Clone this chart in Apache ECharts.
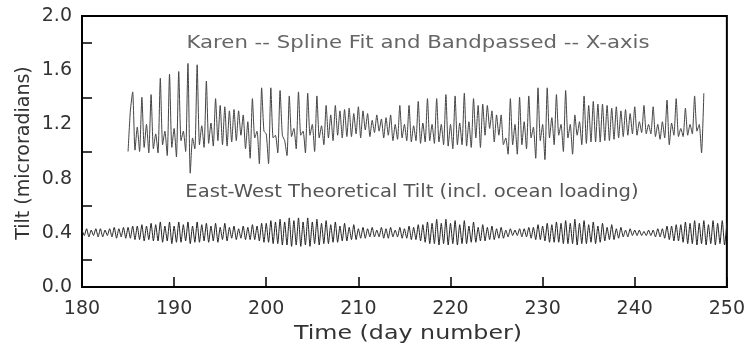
<!DOCTYPE html>
<html>
<head>
<meta charset="utf-8">
<script src="https://cdn.jsdelivr.net/npm/echarts@6/dist/echarts.min.js"></script>
<style>
  html, body { margin: 0; padding: 0; background: #fff; }
  #chart { width: 748px; height: 351px; }
</style>
</head>
<body>
<div id="chart"></div>
<script>
// x range and tick labels
const xTicks = [180, 190, 200, 210, 220, 230, 240, 250]
const yTicks = [0.0, 0.4, 0.8, 1.2, 1.6, 2.0]

// Karen X-axis, spline fit + bandpassed, sampled every 0.25 day from day 185.0
const karenStart = 185.0
const karenValues = [
  1.00, 1.30, 1.44, 1.01,  1.18, 1.00, 1.40, 1.03,  1.20, 0.99, 1.42, 1.02,  1.13, 0.99, 1.54, 1.05,
  1.15, 0.97, 1.57, 1.03,  1.17, 0.96, 1.59, 1.08,  1.15, 1.00, 1.65, 0.84,  1.10, 1.02, 1.64, 1.05,
  1.19, 1.03, 1.52, 1.06,  1.21, 1.04, 1.39, 1.08,  1.34, 1.05, 1.33, 1.04,  1.30, 1.07, 1.31, 1.08,
  1.30, 1.12, 1.27, 1.02,  1.22, 0.95, 1.39, 1.10,  1.15, 0.91, 1.47, 1.15,  1.13, 0.91, 1.47, 1.10,
  1.12, 0.99, 1.45, 1.12,  1.08, 0.97, 1.41, 1.11,  1.17, 1.02, 1.44, 1.12,  1.15, 0.99, 1.43, 1.12,
  1.20, 1.00, 1.41, 1.10,  1.19, 1.05, 1.34, 1.10,  1.27, 1.08, 1.34, 1.12,  1.30, 1.10, 1.31, 1.11,
  1.32, 1.11, 1.28, 1.13,  1.33, 1.10, 1.30, 1.16,  1.28, 1.11, 1.23, 1.14,  1.27, 1.15, 1.24, 1.10,
  1.25, 1.12, 1.27, 1.08,  1.20, 1.09, 1.34, 1.10,  1.20, 1.08, 1.34, 1.07,  1.19, 1.08, 1.37, 1.06,
  1.21, 1.07, 1.39, 1.08,  1.20, 1.06, 1.39, 1.07,  1.20, 1.05, 1.42, 1.04,  1.20, 1.02, 1.41, 1.05,
  1.21, 1.05, 1.43, 1.04,  1.22, 1.03, 1.39, 1.10,  1.34, 1.03, 1.35, 1.12,  1.34, 1.17, 1.30, 1.07,
  1.27, 1.12, 1.27, 1.05,  1.10, 0.98, 1.39, 1.05,  1.20, 0.98, 1.40, 1.05,  1.22, 1.02, 1.41, 1.10,
  1.18, 0.95, 1.47, 1.08,  1.20, 0.94, 1.47, 1.10,  1.25, 1.05, 1.42, 1.12,  1.20, 1.00, 1.45, 1.10,
  1.20, 0.98, 1.27, 1.12,  1.22, 1.05, 1.41, 1.06,  1.34, 1.07, 1.37, 1.07,  1.35, 1.07, 1.35, 1.08,
  1.34, 1.08, 1.32, 1.09,  1.33, 1.10, 1.30, 1.11,  1.31, 1.12, 1.28, 1.13,  1.33, 1.12, 1.22, 1.14,
  1.34, 1.13, 1.20, 1.13,  1.33, 1.11, 1.20, 1.09,  1.22, 1.10, 1.38, 1.05,  1.21, 1.12, 1.39, 1.11,
  1.17, 1.11, 1.32, 1.12,  1.20, 1.13, 1.41, 1.15,  1.20, 0.99, 1.43
]

// East-West theoretical tilt (incl. ocean loading), every 0.25 day from day 180.0
const theoStart = 180.0
const theoValues = [
  0.42, 0.38, 0.43, 0.37,  0.42, 0.38, 0.43, 0.37,  0.43, 0.37, 0.42, 0.38,  0.43, 0.37, 0.44, 0.36,
  0.43, 0.37, 0.44, 0.36,  0.44, 0.36, 0.45, 0.35,  0.45, 0.35, 0.46, 0.34,  0.45, 0.35, 0.47, 0.34,
  0.46, 0.34, 0.48, 0.33,  0.45, 0.34, 0.48, 0.32,  0.45, 0.33, 0.48, 0.33,  0.46, 0.34, 0.48, 0.32,
  0.45, 0.33, 0.48, 0.33,  0.46, 0.34, 0.47, 0.33,  0.45, 0.34, 0.47, 0.33,  0.44, 0.35, 0.47, 0.34,
  0.44, 0.36, 0.45, 0.35,  0.43, 0.36, 0.45, 0.35,  0.44, 0.35, 0.46, 0.35,  0.45, 0.34, 0.47, 0.33,
  0.47, 0.33, 0.49, 0.32,  0.48, 0.32, 0.50, 0.31,  0.48, 0.31, 0.51, 0.30,  0.49, 0.31, 0.51, 0.30,
  0.48, 0.31, 0.51, 0.30,  0.48, 0.32, 0.50, 0.31,  0.47, 0.32, 0.49, 0.32,  0.46, 0.33, 0.48, 0.33,
  0.45, 0.34, 0.47, 0.34,  0.44, 0.35, 0.46, 0.35,  0.43, 0.36, 0.44, 0.36,  0.43, 0.37, 0.44, 0.37,
  0.42, 0.37, 0.44, 0.36,  0.43, 0.36, 0.44, 0.37,  0.42, 0.37, 0.44, 0.36,  0.43, 0.36, 0.45, 0.35,
  0.44, 0.35, 0.46, 0.34,  0.46, 0.33, 0.48, 0.32,  0.47, 0.32, 0.50, 0.31,  0.47, 0.32, 0.50, 0.31,
  0.47, 0.32, 0.49, 0.31,  0.46, 0.32, 0.49, 0.32,  0.45, 0.33, 0.48, 0.33,  0.44, 0.34, 0.46, 0.34,
  0.44, 0.35, 0.45, 0.35,  0.43, 0.36, 0.44, 0.36,  0.42, 0.37, 0.43, 0.38,  0.42, 0.38, 0.43, 0.37,
  0.43, 0.37, 0.44, 0.36,  0.44, 0.35, 0.46, 0.35,  0.45, 0.34, 0.47, 0.33,  0.46, 0.33, 0.48, 0.33,
  0.47, 0.32, 0.49, 0.32,  0.47, 0.32, 0.50, 0.31,  0.47, 0.32, 0.49, 0.32,  0.46, 0.33, 0.48, 0.32,
  0.45, 0.33, 0.47, 0.34,  0.44, 0.35, 0.46, 0.35,  0.43, 0.36, 0.44, 0.37,  0.42, 0.37, 0.43, 0.38,
  0.42, 0.38, 0.42, 0.38,  0.41, 0.38, 0.42, 0.38,  0.42, 0.37, 0.43, 0.37,  0.43, 0.36, 0.45, 0.35,
  0.45, 0.34, 0.46, 0.34,  0.46, 0.33, 0.48, 0.32,  0.47, 0.32, 0.49, 0.31,  0.47, 0.32, 0.49, 0.31,
  0.46, 0.32, 0.49, 0.31,  0.47, 0.32, 0.49, 0.31,  0.47
]

const step = 0.25
const toPairs = (start, values) => values.map((v, i) => [start + i * step, v])

const font = 'DejaVu Sans'
const chart = echarts.init(document.getElementById('chart'))

chart.setOption({
  animation: false,
  backgroundColor: '#fff',
  grid: {
    left: 82, right: 20, top: 16, bottom: 64,
    show: true, borderColor: '#000', borderWidth: 2
  },
  xAxis: {
    type: 'value',
    min: xTicks[0], max: xTicks[xTicks.length - 1], interval: 10,
    axisLine: { lineStyle: { color: '#000', width: 2 } },
    axisTick: { inside: true, length: 10, lineStyle: { color: '#000', width: 1.5 } },
    splitLine: { show: false },
    axisLabel: { fontFamily: font, fontSize: 19, color: '#333', margin: 13 }
  },
  yAxis: {
    type: 'value',
    min: yTicks[0], max: yTicks[yTicks.length - 1], interval: 0.4,
    axisLine: { show: true, lineStyle: { color: '#000', width: 2 } },
    axisTick: { show: true, inside: true, length: 0 },
    minorTick: { show: true, splitNumber: 2, length: 10, lineStyle: { color: '#000', width: 1.5 } },
    splitLine: { show: false },
    axisLabel: {
      fontFamily: font, fontSize: 19, color: '#333', margin: 10,
      formatter: v => v.toFixed(1)
    }
  },
  graphic: [
    { type: 'text', x: 418, y: 44, scaleX: 1.25, style: {
      text: 'Karen -- Spline Fit and Bandpassed -- X-axis', fontFamily: font, fontSize: 17,
      fill: '#666', align: 'center', verticalAlign: 'middle' } },
    { type: 'text', x: 412, y: 193, scaleX: 1.15, style: {
      text: 'East-West Theoretical Tilt (incl. ocean loading)', fontFamily: font, fontSize: 17,
      fill: '#555', align: 'center', verticalAlign: 'middle' } },
    { type: 'text', x: 408, y: 334, scaleX: 1.25, style: {
      text: 'Time (day number)', fontFamily: font, fontSize: 19, fill: '#333',
      align: 'center', verticalAlign: 'middle' } },
    { type: 'text', x: 24, y: 153, rotation: Math.PI / 2, style: {
      text: 'Tilt (microradians)', fontFamily: font, fontSize: 19, fill: '#333',
      align: 'center', verticalAlign: 'middle' } }
  ],
  series: [
    {
      name: 'Karen', type: 'line', showSymbol: false, smooth: 0.2,
      lineStyle: { color: '#444', width: 1 },
      data: toPairs(karenStart, karenValues)
    },
    {
      name: 'Theoretical', type: 'line', showSymbol: false, smooth: 0.2,
      lineStyle: { color: '#222', width: 1 },
      data: toPairs(theoStart, theoValues)
    }
  ]
})
</script>
</body>
</html>
